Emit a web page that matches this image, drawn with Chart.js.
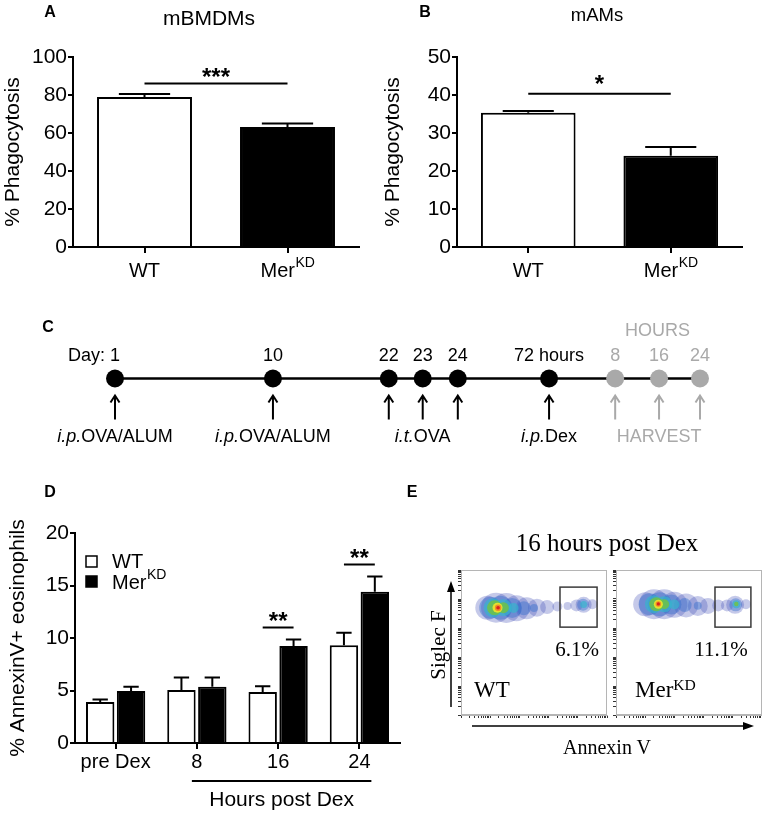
<!DOCTYPE html>
<html>
<head>
<meta charset="utf-8">
<script src="https://cdn.jsdelivr.net/npm/chart.js@4.4.1/dist/chart.umd.min.js"></script>
<style>
  body { margin: 0; background: #fff; }
  #fig { position: relative; width: 762px; height: 813px; overflow: hidden; font-family: 'Liberation Sans', Arial, sans-serif; color: #000; }
  #fig canvas, #fig svg { position: absolute; }
  .t { position: absolute; white-space: nowrap; line-height: 1; transform: translate(-50%, -50%); }
  .serif { font-family: 'Liberation Serif', 'Times New Roman', serif; }
  .panel { font-weight: bold; font-size: 16px; }
  .sup { position: relative; top: -0.45em; font-size: 0.68em; }
</style>
</head>
<body>
<div id="fig">
  <svg width="762" height="813" style="left:0;top:0">
    <line x1="451" y1="707" x2="451" y2="590" stroke="#000" stroke-width="1.5"/>
    <polygon points="451,581 447,592 455,592" fill="#000"/>
    <line x1="472" y1="726" x2="745" y2="726" stroke="#000" stroke-width="1.5"/>
    <polygon points="754,726 743,722 743,730" fill="#000"/>
  </svg>
  <canvas id="chartA" width="380" height="290" style="left:0;top:0"></canvas>
  <canvas id="chartB" width="382" height="290" style="left:380px;top:0"></canvas>
  <canvas id="chartC" width="762" height="170" style="left:0;top:300px"></canvas>
  <canvas id="chartD" width="410" height="343" style="left:0;top:470px"></canvas>
  <canvas id="chartE1" width="190" height="240" style="left:425px;top:520px"></canvas>
  <canvas id="chartE2" width="150" height="165" style="left:612px;top:560px"></canvas>

  <div class="t panel" style="left:50px;top:12px">A</div>
  <div class="t panel" style="left:425px;top:12px">B</div>
  <div class="t panel" style="left:48px;top:327px">C</div>
  <div class="t panel" style="left:50px;top:492px">D</div>
  <div class="t panel" style="left:412px;top:492px">E</div>

  <div class="t" style="left:209px;top:17px;font-size:21px">mBMDMs</div>
  <div class="t" style="left:597px;top:15px;font-size:18.5px">mAMs</div>

  <div class="t serif" style="left:607px;top:542px;font-size:25px">16 hours post Dex</div>
  <div class="t serif" style="left:577px;top:649px;font-size:21px">6.1%</div>
  <div class="t serif" style="left:721px;top:649px;font-size:21px">11.1%</div>
  <div class="t serif" style="left:492px;top:689px;font-size:23px">WT</div>
  <div class="t serif" style="left:635px;top:689px;font-size:23px;transform:translate(0,-50%)">Mer<span class="sup">KD</span></div>
  <div class="t serif" style="left:607px;top:747px;font-size:20px">Annexin V</div>
  <div class="t serif" style="left:438px;top:645px;font-size:21px;transform:translate(-50%,-50%) rotate(-90deg)">Siglec F</div>
</div>

<script>
// ---- data ----
// A / B: phagocytosis
const phagoGroups = ['WT', 'Mer^KD'];
const bmdmMean = [79.0, 63.2];
const bmdmSem = [1.5, 1.8];
const bmdmTicks = [0, 20, 40, 60, 80, 100];
const bmdmSigY = 86;
const amMean = [35.3, 24.0];
const amSem = [0.5, 2.3];
const amTicks = [0, 10, 20, 30, 40, 50];
const amSigY = 40.3;

// C: protocol timeline (schematic position along the line, 0-100)
const timelinePos = [0, 27, 46.8, 52.6, 58.6, 74.2, 85.5, 93, 100];
const timelineTop = ['1', '10', '22', '23', '24', '72 hours', '8', '16', '24'];
const timelineHarvest = [false, false, false, false, false, false, true, true, true];
const timelineTreat = [[0, 'i.p.', 'OVA/ALUM'], [1, 'i.p.', 'OVA/ALUM'], [3, 'i.t.', 'OVA'], [5, 'i.p.', 'Dex'], [7, '', 'HARVEST']];

// D: AnnexinV+ eosinophils
const dexGroups = ['pre Dex', '8', '16', '24'];
const dexWtMean = [3.9, 5.05, 4.85, 9.3];
const dexWtSem = [0.25, 1.2, 0.55, 1.2];
const dexMerMean = [4.95, 5.35, 9.25, 14.4];
const dexMerSem = [0.4, 0.9, 0.6, 1.45];
const dexTicks = [0, 5, 10, 15, 20];
const dexSig = [[2, 11, '**'], [3, 17, '**']];

// E: flow density, [x decade, y decade, radius] per density level (low -> high)
const flowColors = ['rgba(45,60,175,0.28)', 'rgba(50,110,205,0.42)', 'rgba(55,180,205,0.7)',
  'rgba(110,195,70,0.85)', 'rgba(235,225,45,0.95)', 'rgba(240,140,40,1)', 'rgba(215,35,30,1)'];
const wtFlow = [
  [[0.9, 3.70, 12], [1.2, 3.70, 15], [1.55, 3.69, 15], [1.9, 3.68, 13], [2.25, 3.68, 11], [2.6, 3.70, 9], [2.95, 3.72, 7], [3.3, 3.74, 5], [3.65, 3.76, 4], [3.95, 3.78, 6], [4.2, 3.80, 8], [4.5, 3.82, 5]],
  [[1.0, 3.70, 11], [1.35, 3.70, 12], [1.75, 3.69, 10], [2.15, 3.68, 7], [2.5, 3.69, 4], [4.18, 3.80, 6]],
  [[1.1, 3.70, 9.5], [1.45, 3.70, 8.5], [1.8, 3.69, 5], [4.2, 3.81, 3.5]],
  [[1.15, 3.70, 7.5], [1.45, 3.70, 5.5]],
  [[1.25, 3.70, 5]],
  [[1.27, 3.70, 3.2]],
  [[1.27, 3.70, 1.8]]
];
const merFlow = [
  [[1.0, 3.82, 12], [1.3, 3.82, 15], [1.65, 3.82, 15], [2.0, 3.80, 13], [2.4, 3.78, 12], [2.8, 3.76, 10], [3.15, 3.76, 8], [3.5, 3.78, 6], [3.8, 3.78, 6], [4.08, 3.80, 9], [4.45, 3.82, 5]],
  [[1.15, 3.82, 11], [1.5, 3.82, 12], [1.9, 3.81, 10], [2.35, 3.79, 7], [2.8, 3.77, 4], [4.1, 3.80, 6.5]],
  [[1.3, 3.82, 9], [1.65, 3.82, 8], [2.0, 3.81, 5], [4.12, 3.82, 4]],
  [[1.38, 3.82, 7], [1.65, 3.82, 5], [4.12, 3.83, 2.2]],
  [[1.45, 3.82, 4.5]],
  [[1.45, 3.83, 2.8]],
  [[1.45, 3.83, 1.6]]
];
const wtGate = [3.39, 4.66, 3.03, 4.41];
const merGate = [3.39, 4.62, 3.03, 4.41];
const flowDecades = [0, 1, 2, 3, 4, 5];

// ---- helpers ----
const FONT = "'Liberation Sans', Arial, sans-serif";
const GRAY = '#a9a9a9';
Chart.defaults.font.family = FONT;
Chart.defaults.color = '#000';

function setFont(ctx, size, style) {
  ctx.font = (style || '') + ' ' + size + 'px ' + FONT;
}

// text with optional superscript, written as 'Mer^KD'
function drawLabel(ctx, text, x, y, size, align) {
  const parts = text.split('^');
  const supSize = Math.round(size * 0.68);
  setFont(ctx, size);
  const w1 = ctx.measureText(parts[0]).width;
  let w2 = 0;
  if (parts[1]) { setFont(ctx, supSize); w2 = ctx.measureText(parts[1]).width; }
  const x0 = align === 'left' ? x : x - (w1 + w2) / 2;
  ctx.textAlign = 'left';
  ctx.textBaseline = 'alphabetic';
  setFont(ctx, size);
  ctx.fillText(parts[0], x0, y);
  if (parts[1]) {
    setFont(ctx, supSize);
    ctx.fillText(parts[1], x0 + w1 + 0.5, y - size * 0.48);
  }
}

function barDecor(cfg) {
  return {
    id: 'barDecor',
    afterDatasetsDraw(chart) {
      const { ctx, chartArea, scales: { x, y } } = chart;
      ctx.save();
      ctx.strokeStyle = '#000';
      ctx.fillStyle = '#000';
      ctx.lineWidth = 2;
      // error bars (upper only)
      cfg.sem.forEach((sem, di) => {
        const vals = chart.data.datasets[di].data;
        chart.getDatasetMeta(di).data.forEach((bar, i) => {
          const y0 = y.getPixelForValue(vals[i]);
          const y1 = y.getPixelForValue(vals[i] + sem[i]);
          const h = bar.width * 0.27;
          ctx.beginPath();
          ctx.moveTo(bar.x, y0); ctx.lineTo(bar.x, y1);
          ctx.moveTo(bar.x - h, y1); ctx.lineTo(bar.x + h, y1);
          ctx.stroke();
        });
      });
      // significance
      cfg.sig.forEach(s => {
        const a = chart.getDatasetMeta(s.from[0]).data[s.from[1]].x;
        const b = chart.getDatasetMeta(s.to[0]).data[s.to[1]].x;
        const py = y.getPixelForValue(s.y);
        ctx.beginPath();
        ctx.moveTo(a, py); ctx.lineTo(b, py);
        ctx.stroke();
        setFont(ctx, 24, 'bold');
        ctx.textAlign = 'center';
        ctx.textBaseline = 'alphabetic';
        ctx.fillText(s.text, (a + b) / 2, py + cfg.starDy);
      });
      // category labels
      chart.data.labels.forEach((lab, i) => {
        drawLabel(ctx, lab, x.getPixelForValue(i), chartArea.bottom + cfg.labelDy, cfg.labelSize);
      });
      if (cfg.extra) cfg.extra(chart);
      ctx.restore();
    }
  };
}

function barScales(ticks, title, yWidth, xHeight, titlePad) {
  return {
    x: {
      ticks: { display: false },
      grid: { display: true, drawOnChartArea: false, offset: false, tickLength: 6, color: '#000', lineWidth: 2 },
      border: { color: '#000', width: 2 },
      afterFit: s => { s.height = xHeight; }
    },
    y: {
      min: ticks[0],
      max: ticks[ticks.length - 1],
      ticks: { stepSize: ticks[1] - ticks[0], color: '#000', font: { size: 21 }, padding: 1 },
      grid: { drawOnChartArea: false, tickLength: 5, color: '#000', lineWidth: 2 },
      border: { color: '#000', width: 2 },
      title: { display: true, text: title, color: '#000', font: { size: 21 }, padding: { top: titlePad, bottom: 0 } },
      afterFit: s => { s.width = yWidth; }
    }
  };
}

const baseOpts = {
  responsive: false,
  animation: false,
  events: [],
  plugins: { legend: { display: false }, tooltip: { enabled: false } }
};

// ---- A ----
new Chart(document.getElementById('chartA'), {
  type: 'bar',
  data: {
    labels: phagoGroups,
    datasets: [{ data: bmdmMean, backgroundColor: ['#fff', '#000'], borderColor: '#000', borderWidth: 2,
      categoryPercentage: 0.8, barPercentage: 0.83 }]
  },
  options: Object.assign({}, baseOpts, {
    layout: { autoPadding: false, padding: { top: 57, right: 21, left: 0, bottom: 0 } },
    scales: barScales(bmdmTicks, '% Phagocytosis', 73, 43, 1)
  }),
  plugins: [barDecor({ sem: [bmdmSem], sig: [{ from: [0, 0], to: [0, 1], y: bmdmSigY, text: '***' }],
    starDy: 1, labelDy: 30, labelSize: 20 })]
});

// ---- B ----
new Chart(document.getElementById('chartB'), {
  type: 'bar',
  data: {
    labels: phagoGroups,
    datasets: [{ data: amMean, backgroundColor: ['#fff', '#000'], borderColor: '#000', borderWidth: 2,
      categoryPercentage: 0.8, barPercentage: 0.83 }]
  },
  options: Object.assign({}, baseOpts, {
    layout: { autoPadding: false, padding: { top: 57, right: 20, left: 0, bottom: 0 } },
    scales: barScales(amTicks, '% Phagocytosis', 77, 43, 1)
  }),
  plugins: [barDecor({ sem: [amSem], sig: [{ from: [0, 0], to: [0, 1], y: amSigY, text: '*' }],
    starDy: -2, labelDy: 30, labelSize: 20 })]
});

// ---- C ----
const timelinePlugin = {
  id: 'timeline',
  afterDatasetsDraw(chart) {
    const { ctx, scales: { x, y } } = chart;
    const ly = y.getPixelForValue(0);
    ctx.save();
    ctx.lineWidth = 2;
    ctx.textBaseline = 'alphabetic';
    const px = timelinePos.map(p => x.getPixelForValue(p));
    px.forEach((p, i) => {
      const col = timelineHarvest[i] ? GRAY : '#000';
      ctx.fillStyle = col;
      ctx.strokeStyle = col;
      setFont(ctx, 18);
      ctx.textAlign = 'center';
      ctx.fillText(timelineTop[i], p, ly - 18);
      if (i === 0) {
        ctx.textAlign = 'right';
        ctx.fillText('Day: ', p - ctx.measureText(timelineTop[0]).width / 2, ly - 18);
      }
      // arrow
      const tip = ly + 17;
      ctx.beginPath();
      ctx.moveTo(p, ly + 41); ctx.lineTo(p, tip);
      ctx.moveTo(p - 4.5, tip + 7); ctx.lineTo(p, tip); ctx.lineTo(p + 4.5, tip + 7);
      ctx.stroke();
    });
    timelineTreat.forEach(([i, ital, rest]) => {
      ctx.fillStyle = timelineHarvest[i] ? GRAY : '#000';
      setFont(ctx, 18, 'italic');
      const w1 = ctx.measureText(ital).width;
      setFont(ctx, 18);
      const w2 = ctx.measureText(rest).width;
      const x0 = px[i] - (w1 + w2) / 2;
      ctx.textAlign = 'left';
      setFont(ctx, 18, 'italic');
      ctx.fillText(ital, x0, ly + 63);
      setFont(ctx, 18);
      ctx.fillText(rest, x0 + w1, ly + 63);
    });
    const hx = px.filter((p, i) => timelineHarvest[i]);
    ctx.fillStyle = GRAY;
    ctx.textAlign = 'center';
    ctx.fillText('HOURS', (hx[0] + hx[hx.length - 1]) / 2, ly - 43);
    ctx.restore();
  }
};

new Chart(document.getElementById('chartC'), {
  type: 'line',
  data: {
    datasets: [{
      data: timelinePos.map(p => ({ x: p, y: 0 })),
      borderColor: '#000', borderWidth: 2.3,
      pointRadius: 9, pointBorderWidth: 0,
      pointBackgroundColor: timelineHarvest.map(h => h ? GRAY : '#000'),
      pointBorderColor: timelineHarvest.map(h => h ? GRAY : '#000'),
      clip: false
    }]
  },
  options: Object.assign({}, baseOpts, {
    layout: { autoPadding: false, padding: { top: 0, right: 62, left: 115, bottom: 13 } },
    scales: {
      x: { type: 'linear', display: false, min: 0, max: 100 },
      y: { display: false, min: -1, max: 1 }
    }
  }),
  plugins: [timelinePlugin]
});

// ---- D ----
function dexExtra(chart) {
  const { ctx, chartArea, scales: { x } } = chart;
  // legend
  const lx = chartArea.left + 11, ly = chartArea.top + 23;
  ctx.lineWidth = 1.5;
  ctx.fillStyle = '#fff';
  ctx.fillRect(lx, ly, 11, 11);
  ctx.strokeRect(lx, ly, 11, 11);
  ctx.fillStyle = '#000';
  ctx.fillRect(lx - 0.75, ly + 20 - 0.75, 12.5, 12.5);
  drawLabel(ctx, 'WT', lx + 26, ly + 12, 20, 'left');
  drawLabel(ctx, 'Mer^KD', lx + 26, ly + 33, 20, 'left');
  // bracket under time points
  const a = x.getPixelForValue(1) - 5, b = x.getPixelForValue(3) + 12;
  const by = chartArea.bottom + 38;
  ctx.lineWidth = 2;
  ctx.beginPath();
  ctx.moveTo(a, by); ctx.lineTo(b, by);
  ctx.stroke();
  drawLabel(ctx, 'Hours post Dex', (a + b) / 2, chartArea.bottom + 63, 21);
}

new Chart(document.getElementById('chartD'), {
  type: 'bar',
  data: {
    labels: dexGroups,
    datasets: [
      { label: 'WT', data: dexWtMean, backgroundColor: '#fff', borderColor: '#000', borderWidth: 2,
        categoryPercentage: 0.76, barPercentage: 0.92 },
      { label: 'MerKD', data: dexMerMean, backgroundColor: '#000', borderColor: '#000', borderWidth: 2,
        categoryPercentage: 0.76, barPercentage: 0.92 }
    ]
  },
  options: Object.assign({}, baseOpts, {
    layout: { autoPadding: false, padding: { top: 63, right: 10, left: 0, bottom: 0 } },
    scales: barScales(dexTicks, '% AnnexinV+ eosinophils', 75, 70, 6)
  }),
  plugins: [barDecor({
    sem: [dexWtSem, dexMerSem],
    sig: dexSig.map(([i, v, t]) => ({ from: [0, i], to: [1, i], y: v, text: t })),
    starDy: 1, labelDy: 25, labelSize: 20, extra: dexExtra
  })]
});

// ---- E ----
const minorTicks = [];
flowDecades.forEach(d => {
  for (let k = 1; k <= 9; k++) {
    const v = d + Math.log10(k);
    if (v <= flowDecades[flowDecades.length - 1]) minorTicks.push({ value: v });
  }
});

function flowAxis(isX) {
  return {
    type: 'linear',
    min: flowDecades[0],
    max: flowDecades[flowDecades.length - 1],
    afterBuildTicks: s => { s.ticks = minorTicks.map(t => ({ value: t.value })); },
    ticks: { display: false },
    grid: { drawOnChartArea: false, tickLength: 3, color: '#333', lineWidth: 1 },
    border: { color: '#b5b5b5', width: 1 },
    afterFit: s => { if (isX) s.height = 4; else s.width = 4; }
  };
}

function flowPlugin(gate) {
  return {
    id: 'flowBox',
    afterDatasetsDraw(chart) {
      const { ctx, chartArea: c, scales: { x, y } } = chart;
      ctx.save();
      ctx.strokeStyle = '#b5b5b5';
      ctx.lineWidth = 1;
      ctx.strokeRect(c.left + 0.5, c.top + 0.5, c.right - c.left - 1, c.bottom - c.top - 1);
      ctx.strokeStyle = '#3a3a3a';
      ctx.lineWidth = 1.5;
      const gx0 = x.getPixelForValue(gate[0]), gx1 = x.getPixelForValue(gate[1]);
      const gy0 = y.getPixelForValue(gate[2]), gy1 = y.getPixelForValue(gate[3]);
      ctx.strokeRect(gx0, gy1, gx1 - gx0, gy0 - gy1);
      ctx.restore();
    }
  };
}

function flowChart(id, levels, gate, pad) {
  new Chart(document.getElementById(id), {
    type: 'bubble',
    data: {
      // denser levels drawn on top: lower order is painted last
      datasets: levels.map((pts, li) => ({
        data: pts.map(p => ({ x: p[0], y: p[1], r: p[2] })),
        backgroundColor: flowColors[li],
        borderWidth: 0,
        order: levels.length - li
      }))
    },
    options: Object.assign({}, baseOpts, {
      layout: { autoPadding: false, padding: pad },
      scales: { x: flowAxis(true), y: flowAxis(false) }
    }),
    plugins: [flowPlugin(gate)]
  });
}

flowChart('chartE1', wtFlow, wtGate, { left: 32, right: 8, top: 50, bottom: 41 });
flowChart('chartE2', merFlow, merGate, { left: 0, right: 0, top: 10, bottom: 6 });
</script>
</body>
</html>
